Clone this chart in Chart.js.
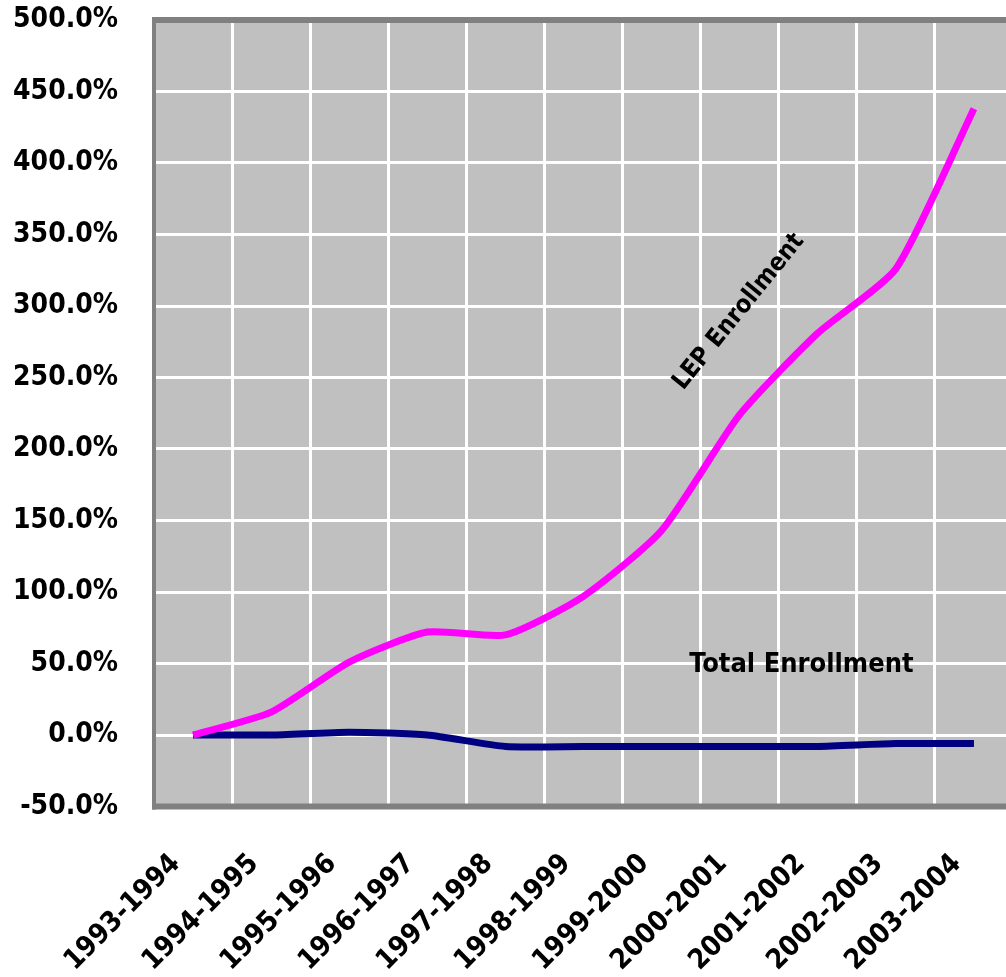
<!DOCTYPE html>
<html>
<head>
<meta charset="utf-8">
<script src="https://cdn.jsdelivr.net/npm/chart.js@4"></script>
<style>
  html, body { margin: 0; padding: 0; background: #fff; overflow: hidden; }
  #wrap { width: 1020px; height: 977px; position: relative; }
</style>
</head>
<body>
<div id="wrap"><canvas id="enrollChart"></canvas></div>
<script>
// ==================== DATA ====================
const years = ['1993-1994', '1994-1995', '1995-1996', '1996-1997', '1997-1998', '1998-1999',
               '1999-2000', '2000-2001', '2001-2002', '2002-2003', '2003-2004'];
const lepGrowth = [0, 16, 51, 72, 70, 97, 143, 224, 281, 326, 438];
const totalGrowth = [0, 0, 2, 0, -8, -8, -8, -8, -8, -6, -6];
const yTicks = { min: -50, max: 500, step: 50 };

const FONT = "'DejaVu Sans Condensed', 'Liberation Sans Narrow', 'DejaVu Sans', sans-serif";

// text drawn on the plot, anchored in data units
const notes = [
    { text: 'LEP Enrollment', at: 6.99, val: 296, angle: -51, size: 25 },
    { text: 'Total Enrollment', at: 7.79, val: 49, angle: 0, size: 27 }
];

// plot background + Excel-like frame
const plotFrame = {
    id: 'plotFrame',
    beforeDraw(chart) {
        const { ctx, chartArea: a } = chart;
        ctx.save();
        ctx.fillStyle = '#c0c0c0';
        ctx.fillRect(a.left, a.top, a.right - a.left, a.bottom - a.top);
        ctx.restore();
    },
    beforeDatasetsDraw(chart) {
        const { ctx, chartArea: a } = chart;
        ctx.save();
        ctx.fillStyle = '#808080';
        ctx.fillRect(a.left - 2, a.top - 3, a.right - a.left + 2, 6);
        ctx.fillRect(a.left - 2, a.top - 3, 4, a.bottom - a.top + 6);
        ctx.fillRect(a.left - 2, a.bottom - 3, a.right - a.left + 2, 6);
        ctx.restore();
    }
};

const noteLabels = {
    id: 'noteLabels',
    afterDatasetsDraw(chart) {
        const { ctx, scales: { x, y } } = chart;
        ctx.save();
        ctx.fillStyle = '#000';
        ctx.textAlign = 'center';
        ctx.textBaseline = 'middle';
        notes.forEach(n => {
            ctx.save();
            ctx.translate(x.getPixelForValue(n.at), y.getPixelForValue(n.val));
            ctx.rotate(n.angle * Math.PI / 180);
            ctx.font = 'bold ' + n.size + 'px ' + FONT;
            ctx.fillText(n.text, 0, 0);
            ctx.restore();
        });
        ctx.restore();
    }
};

const ctx = document.getElementById('enrollChart').getContext('2d');
const enrollChart = new Chart(ctx, {
    type: 'line',
    data: {
        labels: years,
        datasets: [
            { label: 'LEP Enrollment', data: lepGrowth, borderColor: '#ff00ff', borderWidth: 7, pointRadius: 0, tension: 0.2, borderCapStyle: 'butt' },
            { label: 'Total Enrollment', data: totalGrowth, borderColor: '#000080', borderWidth: 7, pointRadius: 0, tension: 0.2, borderCapStyle: 'butt' }
        ]
    },
    options: {
        responsive: true,
        maintainAspectRatio: false,
        animation: false,
        layout: { padding: { top: 20, right: 7, left: 0, bottom: 0 } },
        plugins: { legend: { display: false }, tooltip: { enabled: false } },
        scales: {
            x: {
                offset: true,
                grid: { color: '#ffffff', lineWidth: 3, offset: true, drawTicks: false },
                border: { display: false },
                ticks: { color: '#000', font: { family: FONT, size: 28, weight: 'bold' }, maxRotation: 45, minRotation: 45, padding: 41, labelOffset: -17, autoSkip: false },
                afterFit: s => { s.height = 170.5; s.paddingLeft = 0; s.paddingRight = 0; s.paddingTop = 0; s.paddingBottom = 0; }
            },
            y: {
                min: yTicks.min, max: yTicks.max,
                grid: { color: '#ffffff', lineWidth: 3, drawTicks: false },
                border: { display: false },
                ticks: { stepSize: yTicks.step, color: '#000', font: { family: FONT, size: 28, weight: 'bold' }, padding: 36, callback: v => v.toFixed(1) + '%' },
                afterFit: s => { s.width = 154; s.paddingTop = 0; s.paddingBottom = 0; s.paddingLeft = 0; s.paddingRight = 0; }
            }
        }
    },
    plugins: [plotFrame, noteLabels]
});
</script>
</body>
</html>
